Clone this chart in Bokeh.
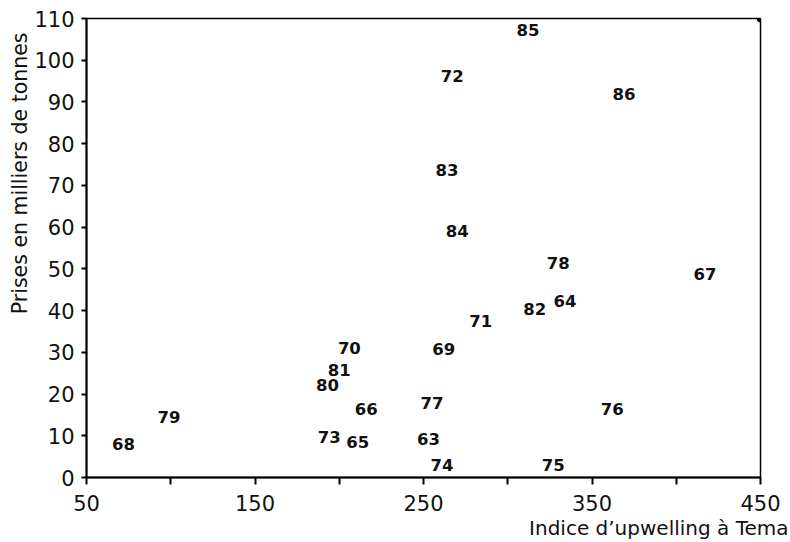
from bokeh.plotting import figure
from bokeh.models import ColumnDataSource, Range1d, FixedTicker, Title
from bokeh.core.properties import value
from bokeh.embed import file_html
from bokeh.resources import INLINE

# ---- data ----
years = ["63", "64", "65", "66", "67", "68", "69", "70", "71", "72", "73", "74",
         "75", "76", "77", "78", "79", "80", "81", "82", "83", "84", "85", "86"]
upwelling = [253, 334, 211, 216, 417, 72, 262, 206, 284, 267, 194, 261,
             327, 362, 255, 330, 99, 193, 200, 316, 264, 270, 312, 369]
catches = [9.3, 42.3, 8.6, 16.5, 48.8, 8.1, 30.9, 31.1, 37.6, 96.2, 9.8, 3.1,
           3.1, 16.3, 17.9, 51.4, 14.4, 22.2, 25.8, 40.4, 73.7, 59.1, 107.2, 91.9]

x_ticks = [50, 100, 150, 200, 250, 300, 350, 400, 450]
x_tick_labels = ["50", "", "150", "", "250", "", "350", "", "450"]
y_ticks = [0, 10, 20, 30, 40, 50, 60, 70, 80, 90, 100, 110]
X_MIN, X_MAX = 50, 450
Y_MIN, Y_MAX = 0, 110

FONT = "DejaVu Sans"

src = ColumnDataSource(dict(x=upwelling, y=catches, t=years))

p = figure(width=790, height=542, output_backend="svg", toolbar_location=None,
           x_range=Range1d(X_MIN, X_MAX), y_range=Range1d(Y_MIN, Y_MAX),
           min_border_left=86, min_border_right=30, min_border_top=18,
           min_border_bottom=65)
p.background_fill_color = "white"
p.border_fill_color = "white"
p.outline_line_color = "black"
p.outline_line_width = 1.5
p.xgrid.visible = False
p.ygrid.visible = False

p.text(x="x", y="y", text="t", source=src, text_align="center",
       text_baseline="middle", text_font=value(FONT), text_font_size="16.5px",
       text_font_style="bold", text_color="#111111")

# corner dot
p.scatter([X_MAX], [Y_MAX], size=7, color="black")

for ax in (p.xaxis[0], p.yaxis[0]):
    ax.axis_line_width = 2
    ax.axis_line_color = "black"
    ax.major_tick_line_width = 2
    ax.major_tick_line_color = "black"
    ax.minor_tick_line_color = None
    ax.major_tick_in = 0
    ax.major_label_text_font = FONT
    ax.major_label_text_font_size = "21px"
    ax.major_label_text_color = "#111111"

p.xaxis.ticker = FixedTicker(ticks=x_ticks)
p.xaxis.major_label_overrides = {t: lab for t, lab in zip(x_ticks, x_tick_labels)}
p.xaxis.major_tick_out = 7
p.xaxis.major_label_standoff = 10
p.yaxis.ticker = FixedTicker(ticks=y_ticks)
p.yaxis.major_tick_out = 5
p.yaxis.major_label_standoff = 7

xlab = Title(text="Indice d\u2019upwelling \u00e0 Tema", align="right", offset=-28,
             standoff=0, text_font=FONT, text_font_size="20px",
             text_font_style="normal", text_color="#111111")
ylab = Title(text="Prises en milliers de tonnes", align="right", offset=14,
             standoff=0, text_font=FONT, text_font_size="20.5px",
             text_font_style="normal", text_color="#111111")
p.add_layout(xlab, "below")
p.add_layout(ylab, "left")

open("out.html", "w").write(file_html(p, INLINE))
